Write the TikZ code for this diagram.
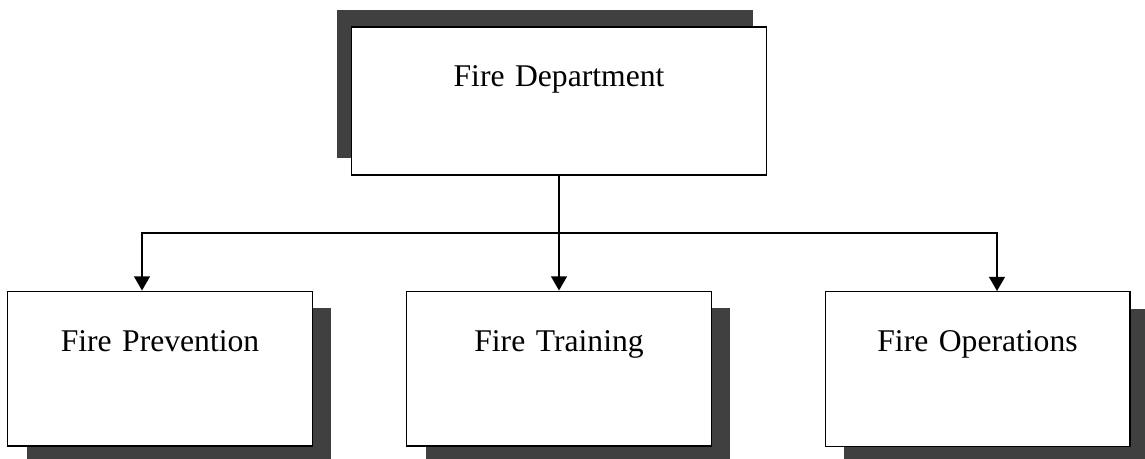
\documentclass[tikz,border=0pt]{standalone}
\usepackage{fontspec}
\setmainfont{Liberation Serif}
\usetikzlibrary{shadows, arrows.meta}
\tikzstyle{unit} = [rectangle, draw=black, fill=white, line width=0.6pt, inner sep=0pt,
align=center, text width=6.1cm, text height=1.2cm, text depth=1.9cm,
font=\fontsize{18}{20}\selectfont]
\tikzstyle{shadowtl} = [drop shadow={shadow xshift=-0.28cm, shadow yshift=0.34cm, fill=black!75, opacity=1}]
\tikzstyle{shadowbr} = [drop shadow={shadow xshift=0.38cm, shadow yshift=-0.34cm, fill=black!75, opacity=1}]
\tikzstyle{arrow} = [line width=0.8pt, -{Triangle[width=9pt,length=8pt]}]

\begin{document}
\begin{tikzpicture}[x=0.02cm, y=-0.02cm]
    \useasboundingbox (0,0) rectangle (1145,458);

    %Main Node
    \node (dept) [unit, shadowtl, text width=8.32cm, text height=1.18cm, text depth=1.78cm] at (559,101) {Fire Department};

    %Divisions
    \node (prev) [unit, shadowbr] at (160,368.5) {Fire Prevention};
    \node (train) [unit, shadowbr] at (559,368.5) {Fire Training};
    \node (ops) [unit, shadowbr] at (977.5,369) {Fire Operations};

    \coordinate (split) at (559,233);

    %Arrows
    \draw [arrow] (dept.south) -- (train.north);
    \draw [arrow] (split) -| ([xshift=-0.36cm]prev.north);
    \draw [arrow] (split) -| ([xshift=0.39cm]ops.north);

\end{tikzpicture}
\end{document}
